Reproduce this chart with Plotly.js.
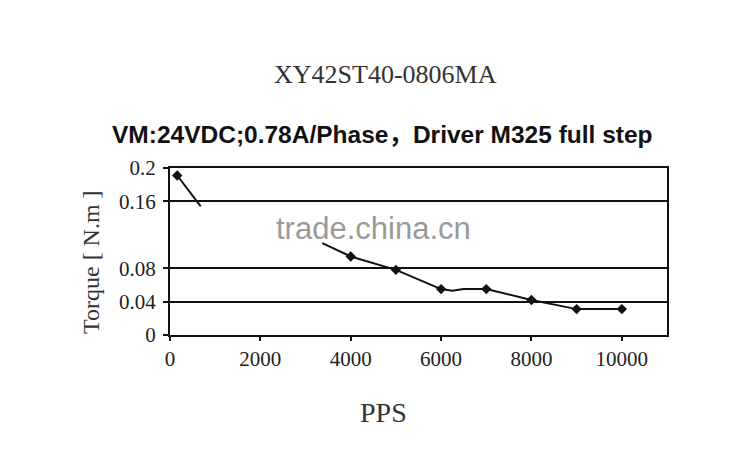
<!DOCTYPE html>
<html>
<head>
<meta charset="utf-8">
<script src="https://cdn.plot.ly/plotly-3.0.1.min.js"></script>
<style>html,body{margin:0;padding:0;background:#fff;}#chart{width:750px;height:474px;}</style>
</head>
<body>
<div id="chart"></div>
<script>
// Marker points (PPS, Torque)
const ppsPoints = [160, 4000, 5000, 6000, 7000, 8000, 9000, 10000];
const torquePoints = [0.191, 0.094, 0.078, 0.055, 0.055, 0.042, 0.031, 0.031];
// Curve path as drawn (gap where the picture is blanked by the watermark)
const ppsCurve = [160, 680, null, 3370, 4000, 5000, 6000, 6250, 6500, 7000, 8000, 9000, 10000];
const torqueCurve = [0.191, 0.154, null, 0.110, 0.094, 0.078, 0.055, 0.053, 0.055, 0.055, 0.042, 0.031, 0.031];
const xTicks = [0, 2000, 4000, 6000, 8000, 10000];
const yTicks = [0, 0.04, 0.08, 0.16, 0.2];
const yTickText = ['0', '0.04', '0.08', '0.16', '0.2'];
const title1 = 'XY42ST40-0806MA';
const title2 = 'VM:24VDC;0.78A/Phase，Driver M325 full step';
const xTitle = 'PPS';
const yTitle = 'Torque [ N.m ]';
const watermark = 'trade.china.cn';

const serif = '"Liberation Serif", "DejaVu Serif", serif';
const sans = '"Liberation Sans", Arial, "Noto Sans CJK SC", sans-serif';

const traces = [
  {x: ppsCurve, y: torqueCurve, mode: 'lines', line: {color: '#111', width: 2}, connectgaps: false, hoverinfo: 'skip', showlegend: false},
  {x: ppsPoints, y: torquePoints, mode: 'markers', marker: {symbol: 'diamond', size: 8, color: '#111'}, showlegend: false}
];

const layout = {
  width: 750, height: 474,
  margin: {l: 170, r: 83, t: 168, b: 139},
  paper_bgcolor: '#fff', plot_bgcolor: '#fff',
  showlegend: false,
  xaxis: {
    range: [0, 11000], tickvals: xTicks, ticktext: xTicks.map(String),
    showgrid: false, zeroline: false,
    showline: true, mirror: true, linecolor: '#111', linewidth: 2,
    ticks: 'outside', ticklen: 4, tickwidth: 2, tickcolor: '#111',
    tickfont: {family: serif, size: 21, color: '#222'}
  },
  yaxis: {
    range: [0, 0.2], tickvals: yTicks, ticktext: yTickText,
    showgrid: true, gridcolor: '#111', gridwidth: 2, zeroline: false,
    showline: true, mirror: true, linecolor: '#111', linewidth: 2,
    ticks: 'outside', ticklen: 5, tickwidth: 2, tickcolor: '#111', ticklabelstandoff: 3,
    tickfont: {family: serif, size: 21, color: '#222'}
  },
  annotations: [
    {text: title1, xref: 'paper', yref: 'paper', x: 0.433, y: 1.557, xanchor: 'center', yanchor: 'middle', showarrow: false,
     font: {family: serif, size: 26, color: '#333'}},
    {text: '<b>' + title2 + '</b>', xref: 'paper', yref: 'paper', x: 0.428, y: 1.198, xanchor: 'center', yanchor: 'middle', showarrow: false,
     font: {family: sans, size: 24.5, color: '#111'}},
    {text: xTitle, xref: 'paper', yref: 'paper', x: 0.429, y: -0.467, xanchor: 'center', yanchor: 'middle', showarrow: false,
     font: {family: serif, size: 28, color: '#333'}},
    {text: yTitle, xref: 'paper', yref: 'paper', x: -0.16, y: 0.44, xanchor: 'center', yanchor: 'middle', showarrow: false, textangle: -90,
     font: {family: serif, size: 24, color: '#333'}},
    {text: watermark, xref: 'paper', yref: 'paper', x: 0.41, y: 0.64, xanchor: 'center', yanchor: 'middle', showarrow: false,
     font: {family: sans, size: 31, color: '#9a9a9a'}}
  ]
};

Plotly.newPlot('chart', traces, layout, {displayModeBar: false, staticPlot: true});
</script>
</body>
</html>
